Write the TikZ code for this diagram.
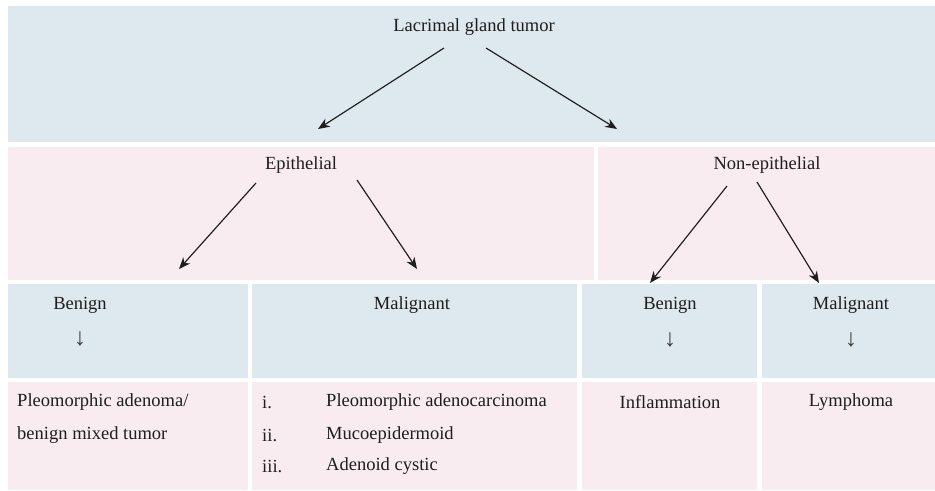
\documentclass[tikz,border=0pt]{standalone}
\usepackage{fontspec}
\setmainfont{Liberation Serif}
\usetikzlibrary{arrows.meta}
\definecolor{rowblue}{RGB}{222,232,239}
\definecolor{rowpink}{RGB}{248,236,240}
\definecolor{inkgray}{RGB}{30,30,30}
\begin{document}
\begin{tikzpicture}[
    x=0.03cm, y=-0.03cm,
    lbl/.style={text=inkgray, font=\fontsize{15.8}{18}\selectfont, inner sep=0pt},
    downmark/.style={text=inkgray!85, font=\fontsize{21}{24}\selectfont, inner sep=0pt},
    arr/.style={-{Stealth[length=10pt, width=8pt]}, line width=1pt, draw=inkgray},
]
    \useasboundingbox (0,0) rectangle (935,490);

    % Row 1
    \fill[rowblue] (8,6) rectangle (935,142);
    % Row 2
    \fill[rowpink] (8,147) rectangle (594,280);
    \fill[rowpink] (598,147) rectangle (935,280);
    % Row 3
    \fill[rowblue] (8,284) rectangle (248,378);
    \fill[rowblue] (252,284) rectangle (577,378);
    \fill[rowblue] (582,284) rectangle (757,378);
    \fill[rowblue] (762,284) rectangle (935,378);
    % Row 4
    \fill[rowpink] (8,382) rectangle (248,490);
    \fill[rowpink] (252,382) rectangle (577,490);
    \fill[rowpink] (582,382) rectangle (757,490);
    \fill[rowpink] (762,382) rectangle (935,490);

    % Headings
    \node[lbl] (tumor) at (474,27) {Lacrimal gland tumor};
    \node[lbl] (epi) at (301,165) {Epithelial};
    \node[lbl] (nonepi) at (767,165) {Non-epithelial};

    \node[lbl] (epiben) at (80,305) {Benign};
    \node[downmark] (epibenarr) at (80,339) {↓};
    \node[lbl] (epimal) at (412,305) {Malignant};
    \node[lbl] (nonben) at (670,305) {Benign};
    \node[downmark] (nonbenarr) at (670,340) {↓};
    \node[lbl] (nonmal) at (851,305) {Malignant};
    \node[downmark] (nonmalarr) at (851,340) {↓};

    % Row 4 entries
    \node[lbl, anchor=west] (pa1) at (17,402) {Pleomorphic adenoma/};
    \node[lbl, anchor=west] (pa2) at (17,435) {benign mixed tumor};
    \node[lbl, anchor=west] (n1) at (262,402) {i.};
    \node[lbl, anchor=west] (n2) at (262,435) {ii.};
    \node[lbl, anchor=west] (n3) at (262,466) {iii.};
    \node[lbl, anchor=west] (m1) at (326,402) {Pleomorphic adenocarcinoma};
    \node[lbl, anchor=west] (m2) at (326,435) {Mucoepidermoid};
    \node[lbl, anchor=west] (m3) at (326,466) {Adenoid cystic};
    \node[lbl] (infl) at (670,402) {Inflammation};
    \node[lbl] (lymph) at (851,402) {Lymphoma};

    % Arrow ends
    \coordinate (tl) at (444,48);
    \coordinate (tr) at (486,48);
    \coordinate (epil) at (318,129);
    \coordinate (nonepir) at (617,129);
    \coordinate (el) at (256,183);
    \coordinate (er) at (357,180);
    \coordinate (ebl) at (179,269);
    \coordinate (emr) at (417,269);
    \coordinate (nl) at (727,186);
    \coordinate (nr) at (757,182);
    \coordinate (nbl) at (650,283);
    \coordinate (nmr) at (819,283);

    \draw[arr] (tl) -- (epil);
    \draw[arr] (tr) -- (nonepir);
    \draw[arr] (el) -- (ebl);
    \draw[arr] (er) -- (emr);
    \draw[arr] (nl) -- (nbl);
    \draw[arr] (nr) -- (nmr);
\end{tikzpicture}
\end{document}
